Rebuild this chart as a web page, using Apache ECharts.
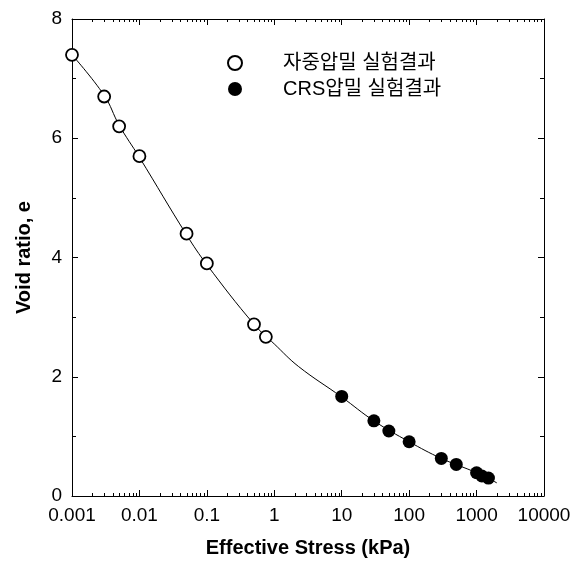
<!DOCTYPE html>
<html>
<head>
<meta charset="utf-8">
<script src="https://cdn.jsdelivr.net/npm/echarts@6/dist/echarts.min.js"></script>
<style>
  html, body { margin: 0; padding: 0; background: #fff; }
  #chart { width: 576px; height: 566px; }
</style>
</head>
<body>
<div id="chart"></div>
<script>
// Self-weight consolidation test results (effective stress kPa, void ratio)
const selfWeightStress = [0.001, 0.003, 0.005, 0.01, 0.05, 0.1, 0.5, 0.75];
const selfWeightVoid   = [7.40, 6.70, 6.20, 5.70, 4.40, 3.90, 2.88, 2.67];

// CRS consolidation test results
const crsStress = [10, 30, 50, 100, 300, 500, 1000, 1200, 1500];
const crsVoid   = [1.67, 1.26, 1.09, 0.91, 0.63, 0.53, 0.39, 0.335, 0.30];

// Fitted compression curve
const curveStress = [0.001, 0.003, 0.005, 0.01, 0.05, 0.1, 0.5, 1, 2.3, 10, 30, 100, 300, 1000, 2000];
const curveVoid   = [7.40, 6.72, 6.22, 5.68, 4.38, 3.88, 2.88, 2.55, 2.17, 1.66, 1.26, 0.91, 0.63, 0.39, 0.22];

const xTickLabels = ['0.001', '0.01', '0.1', '1', '10', '100', '1000', '10000'];
const seriesNames = ['자중압밀 실험결과', 'CRS압밀 실험결과'];

// Minor tick positions (2..9 within each decade)
const minorMultipliers = [2, 3, 4, 5, 6, 7, 8, 9];
const decades = [0.001, 0.01, 0.1, 1, 10, 100, 1000];
const minorTickValues = [];
decades.forEach(d => minorMultipliers.forEach(m => minorTickValues.push(+(d * m).toPrecision(3))));

const FONT = '"Liberation Sans", Arial, "Noto Sans CJK KR", sans-serif';

const zip = (xs, ys) => xs.map((x, i) => [x, ys[i]]);

const chart = echarts.init(document.getElementById('chart'), null, { renderer: 'canvas' });

const labelFor = v => {
  const i = Math.round(Math.log10(v) + 3);
  return xTickLabels[i] !== undefined ? xTickLabels[i] : '';
};

const baseX = {
  type: 'log',
  logBase: 10,
  min: 0.001,
  max: 10000,
  axisLine: { show: true, onZero: false, lineStyle: { color: '#000', width: 1 } },
  axisTick: { show: true, inside: true, length: 6, lineStyle: { color: '#000', width: 1 } },
  splitLine: { show: false },
  minorTick: { show: false }
};
const baseY = {
  type: 'value',
  min: 0,
  max: 8,
  interval: 2,
  axisLine: { show: true, onZero: false, lineStyle: { color: '#000', width: 1 } },
  axisTick: { show: true, inside: true, length: 6, lineStyle: { color: '#000', width: 1 } },
  minorTick: { show: true, splitNumber: 2, length: 4, lineStyle: { color: '#000', width: 1 } },
  splitLine: { show: false },
  minorSplitLine: { show: false }
};

chart.setOption({
  animation: false,
  backgroundColor: '#fff',
  grid: { left: 72, right: 32, top: 19, bottom: 70, containLabel: false },
  legend: {
    orient: 'vertical',
    left: 222,
    top: 48,
    itemWidth: 14,
    itemHeight: 14,
    itemGap: 6,
    data: [
      { name: seriesNames[0], icon: 'circle' },
      { name: seriesNames[1], icon: 'circle' }
    ],
    textStyle: { fontFamily: FONT, fontSize: 20, color: '#000', padding: [0, 0, 0, 36] }
  },
  xAxis: [
    Object.assign({}, baseX, {
      position: 'bottom',
      name: 'Effective Stress (kPa)',
      nameLocation: 'middle',
      nameGap: 42,
      nameTextStyle: { fontFamily: FONT, fontSize: 20, fontWeight: 'bold', color: '#000' },
      axisLabel: { show: true, margin: 10, fontFamily: FONT, fontSize: 19, color: '#000', formatter: labelFor }
    }),
    Object.assign({}, baseX, {
      position: 'top',
      axisLabel: { show: false }
    })
  ],
  yAxis: [
    Object.assign({}, baseY, {
      position: 'left',
      name: 'Void ratio, e',
      nameLocation: 'middle',
      nameGap: 38,
      nameTextStyle: { fontFamily: FONT, fontSize: 20, fontWeight: 'bold', color: '#000' },
      axisLabel: { show: true, margin: 10, fontFamily: FONT, fontSize: 19, color: '#000' }
    }),
    Object.assign({}, baseY, {
      position: 'right',
      axisLabel: { show: false }
    })
  ],
  series: [
    {
      // log-axis minor ticks on bottom and top edges
      type: 'custom',
      name: 'minorTicks',
      silent: true,
      clip: false,
      data: minorTickValues.map(v => [v, 0]),
      encode: { x: 0, y: 1 },
      renderItem: (params, api) => {
        const v = api.value(0);
        const b = api.coord([v, 0]);
        const t = api.coord([v, 8]);
        const len = 3;
        const style = { stroke: '#000', lineWidth: 1 };
        return {
          type: 'group',
          children: [
            { type: 'line', shape: { x1: Math.round(b[0]) + 0.5, y1: b[1], x2: Math.round(b[0]) + 0.5, y2: b[1] - len }, style },
            { type: 'line', shape: { x1: Math.round(t[0]) + 0.5, y1: t[1], x2: Math.round(t[0]) + 0.5, y2: t[1] + len }, style }
          ]
        };
      },
      z: 1
    },
    {
      type: 'line',
      name: 'curve',
      data: zip(curveStress, curveVoid),
      smooth: 0.4,
      showSymbol: false,
      symbol: 'none',
      lineStyle: { color: '#000', width: 1 },
      z: 2
    },
    {
      type: 'scatter',
      name: seriesNames[0],
      data: zip(selfWeightStress, selfWeightVoid),
      symbol: 'circle',
      symbolSize: 12,
      itemStyle: { color: '#fff', borderColor: '#000', borderWidth: 1.8, opacity: 1 },
      z: 3
    },
    {
      type: 'scatter',
      name: seriesNames[1],
      data: zip(crsStress, crsVoid),
      symbol: 'circle',
      symbolSize: 13,
      itemStyle: { color: '#000', borderColor: '#000', borderWidth: 0, opacity: 1 },
      z: 4
    }
  ]
});
</script>
</body>
</html>
